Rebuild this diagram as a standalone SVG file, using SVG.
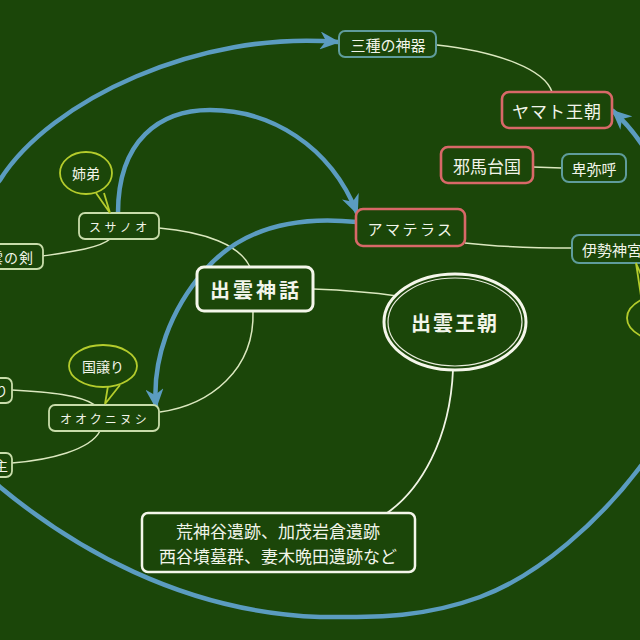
<svg xmlns="http://www.w3.org/2000/svg" width="640" height="640" viewBox="0 0 640 640">
<defs>
<marker id="ah" markerUnits="userSpaceOnUse" markerWidth="20" markerHeight="18" viewBox="0 0 20 18" refX="18" refY="9" orient="auto-start-reverse">
<path d="M0,0 L20,9 L0,18 L6,9 Z" fill="#5b9cc0"/>
</marker>
<style>
text{font-family:"Noto Sans CJK JP","Noto Sans",sans-serif;fill:#f2f5ea;text-anchor:middle;dominant-baseline:central}
.n{fill:#1b4609;stroke:#c8dcaa;stroke-width:1.8}
.t{fill:#1b4609;stroke:#5f9c9c;stroke-width:2}
.r{fill:#1b4609;stroke:#d86868;stroke-width:2.6}
.w{fill:#1b4609;stroke:#f4f6ea;stroke-width:3}
.c{fill:#1b4609;stroke:#b4cc2c;stroke-width:1.8}
.ln{fill:none;stroke:#dbe8bf;stroke-width:1.5}
.bl{fill:none;stroke:#5b9cc0;stroke-width:4.5;stroke-linecap:round}
</style>
</defs>
<rect width="640" height="640" fill="#1b4609"/>

<g id="connectors">
<path class="ln" d="M437,45 C500,52 545,70 552,92"/>
<path class="ln" d="M533,167 L562,168"/>
<path class="ln" d="M465,243 C500,247 540,248 572,248"/>
<path class="ln" d="M313,289 C340,290 370,292 397,296"/>
<path class="ln" d="M159,228 C205,232 240,245 250,267"/>
<path class="ln" d="M253,311 C255,370 210,405 160,412"/>
<path class="ln" d="M110,239 C100,248 70,252 43,256"/>
<path class="ln" d="M12,390 C50,392 80,395 95,405"/>
<path class="ln" d="M100,431 C90,450 50,460 12,463"/>
<path class="ln" d="M453,370 C450,440 420,490 387,513" style="stroke:#f0f4e4;stroke-width:1.8"/>
<path class="bl" d="M613,111 C690,180 730,361 640,467 C600,520 540,575 480,597 C420,619 370,617 320,617 C180,612 70,545 0,487 C-50,446 -60,250 0,180 C50,100 200,30 338,42" marker-start="url(#ah)" marker-end="url(#ah)"/>
<path class="bl" d="M118,213 C118,140 160,110 210,110 C270,110 330,145 357,213" marker-end="url(#ah)"/>
<path class="bl" d="M357,222 C290,215 240,230 205,270 C170,310 152,360 156,407" marker-end="url(#ah)"/>
</g>

<g id="n-sanshu"><rect class="t" x="339" y="31" width="97" height="26" rx="6"/><text x="388" y="44" font-size="15">三種の神器</text></g>
<g id="n-yamato"><rect class="r" x="502" y="92" width="110" height="36" rx="7"/><text x="557" y="110" font-size="17" letter-spacing="1">ヤマト王朝</text></g>
<g id="n-yamatai"><rect class="r" x="441" y="147" width="92" height="36" rx="7"/><text x="487" y="165" font-size="17">邪馬台国</text></g>
<g id="n-himiko"><rect class="t" x="562" y="154" width="64" height="28" rx="7"/><text x="594" y="168" font-size="15">卑弥呼</text></g>
<g id="n-amaterasu"><rect class="r" x="356" y="209" width="109" height="37" rx="7"/><text x="411" y="228" font-size="15" letter-spacing="2.5">アマテラス</text></g>
<g id="n-ise"><rect class="t" x="572" y="235" width="95" height="28" rx="7"/><text x="582" y="249" font-size="15" style="text-anchor:start">伊勢神宮</text></g>
<g id="n-callout-right"><ellipse class="c" cx="673" cy="318" rx="46" ry="25"/><path class="c" d="M641,296 L636,263 L650,295"/></g>

<g id="n-izumo-shinwa"><rect class="w" x="197" y="267" width="116" height="44" rx="7"/><text x="256" y="289" font-size="20" font-weight="bold" letter-spacing="3">出雲神話</text></g>
<g id="n-izumo-ocho"><ellipse cx="455" cy="322" rx="71" ry="48" fill="#1b4609" stroke="#f4f6ea" stroke-width="3"/><ellipse cx="455" cy="322" rx="67" ry="44" fill="none" stroke="#e8ecdc" stroke-width="1.2"/><text x="455" y="322" font-size="20" font-weight="bold" letter-spacing="2">出雲王朝</text></g>

<g id="n-susanoo"><rect class="n" x="79" y="213" width="80" height="26" rx="6"/><text x="120" y="226" font-size="12" letter-spacing="3.5">スサノオ</text></g>
<g id="n-shitei"><path class="c" d="M96,193 L110,213 L104,193"/><ellipse class="c" cx="86" cy="173" rx="26" ry="21"/><text x="86" y="173" font-size="14">姉弟</text></g>
<g id="n-tsurugi"><rect class="n" x="-70" y="244" width="113" height="25" rx="6"/><text x="34" y="257" font-size="14" letter-spacing="1" style="text-anchor:end">天叢雲の剣</text></g>

<g id="n-okuninushi"><rect class="n" x="49" y="405" width="110" height="26" rx="6"/><text x="105" y="418" font-size="12" letter-spacing="3">オオクニヌシ</text></g>
<g id="n-kuniyuzuri"><path class="c" d="M108,386 L105,404 L120,385"/><ellipse class="c" cx="103" cy="366" rx="34" ry="21"/><text x="103" y="366" font-size="14">国譲り</text></g>
<g id="n-left1"><rect class="n" x="-80" y="378" width="92" height="25" rx="6"/><text x="8" y="390" font-size="14" style="text-anchor:end">国づくり</text></g>
<g id="n-left2"><rect class="n" x="-80" y="453" width="92" height="24" rx="6"/><text x="8" y="465" font-size="14" style="text-anchor:end">大国主</text></g>

<g id="n-iseki"><rect class="w" x="142" y="513" width="273" height="59" rx="6" style="stroke-width:2.5"/>
<text x="278" y="530" font-size="17">荒神谷遺跡、加茂岩倉遺跡</text>
<text x="278" y="555" font-size="17">西谷墳墓群、妻木晩田遺跡など</text></g>
</svg>
